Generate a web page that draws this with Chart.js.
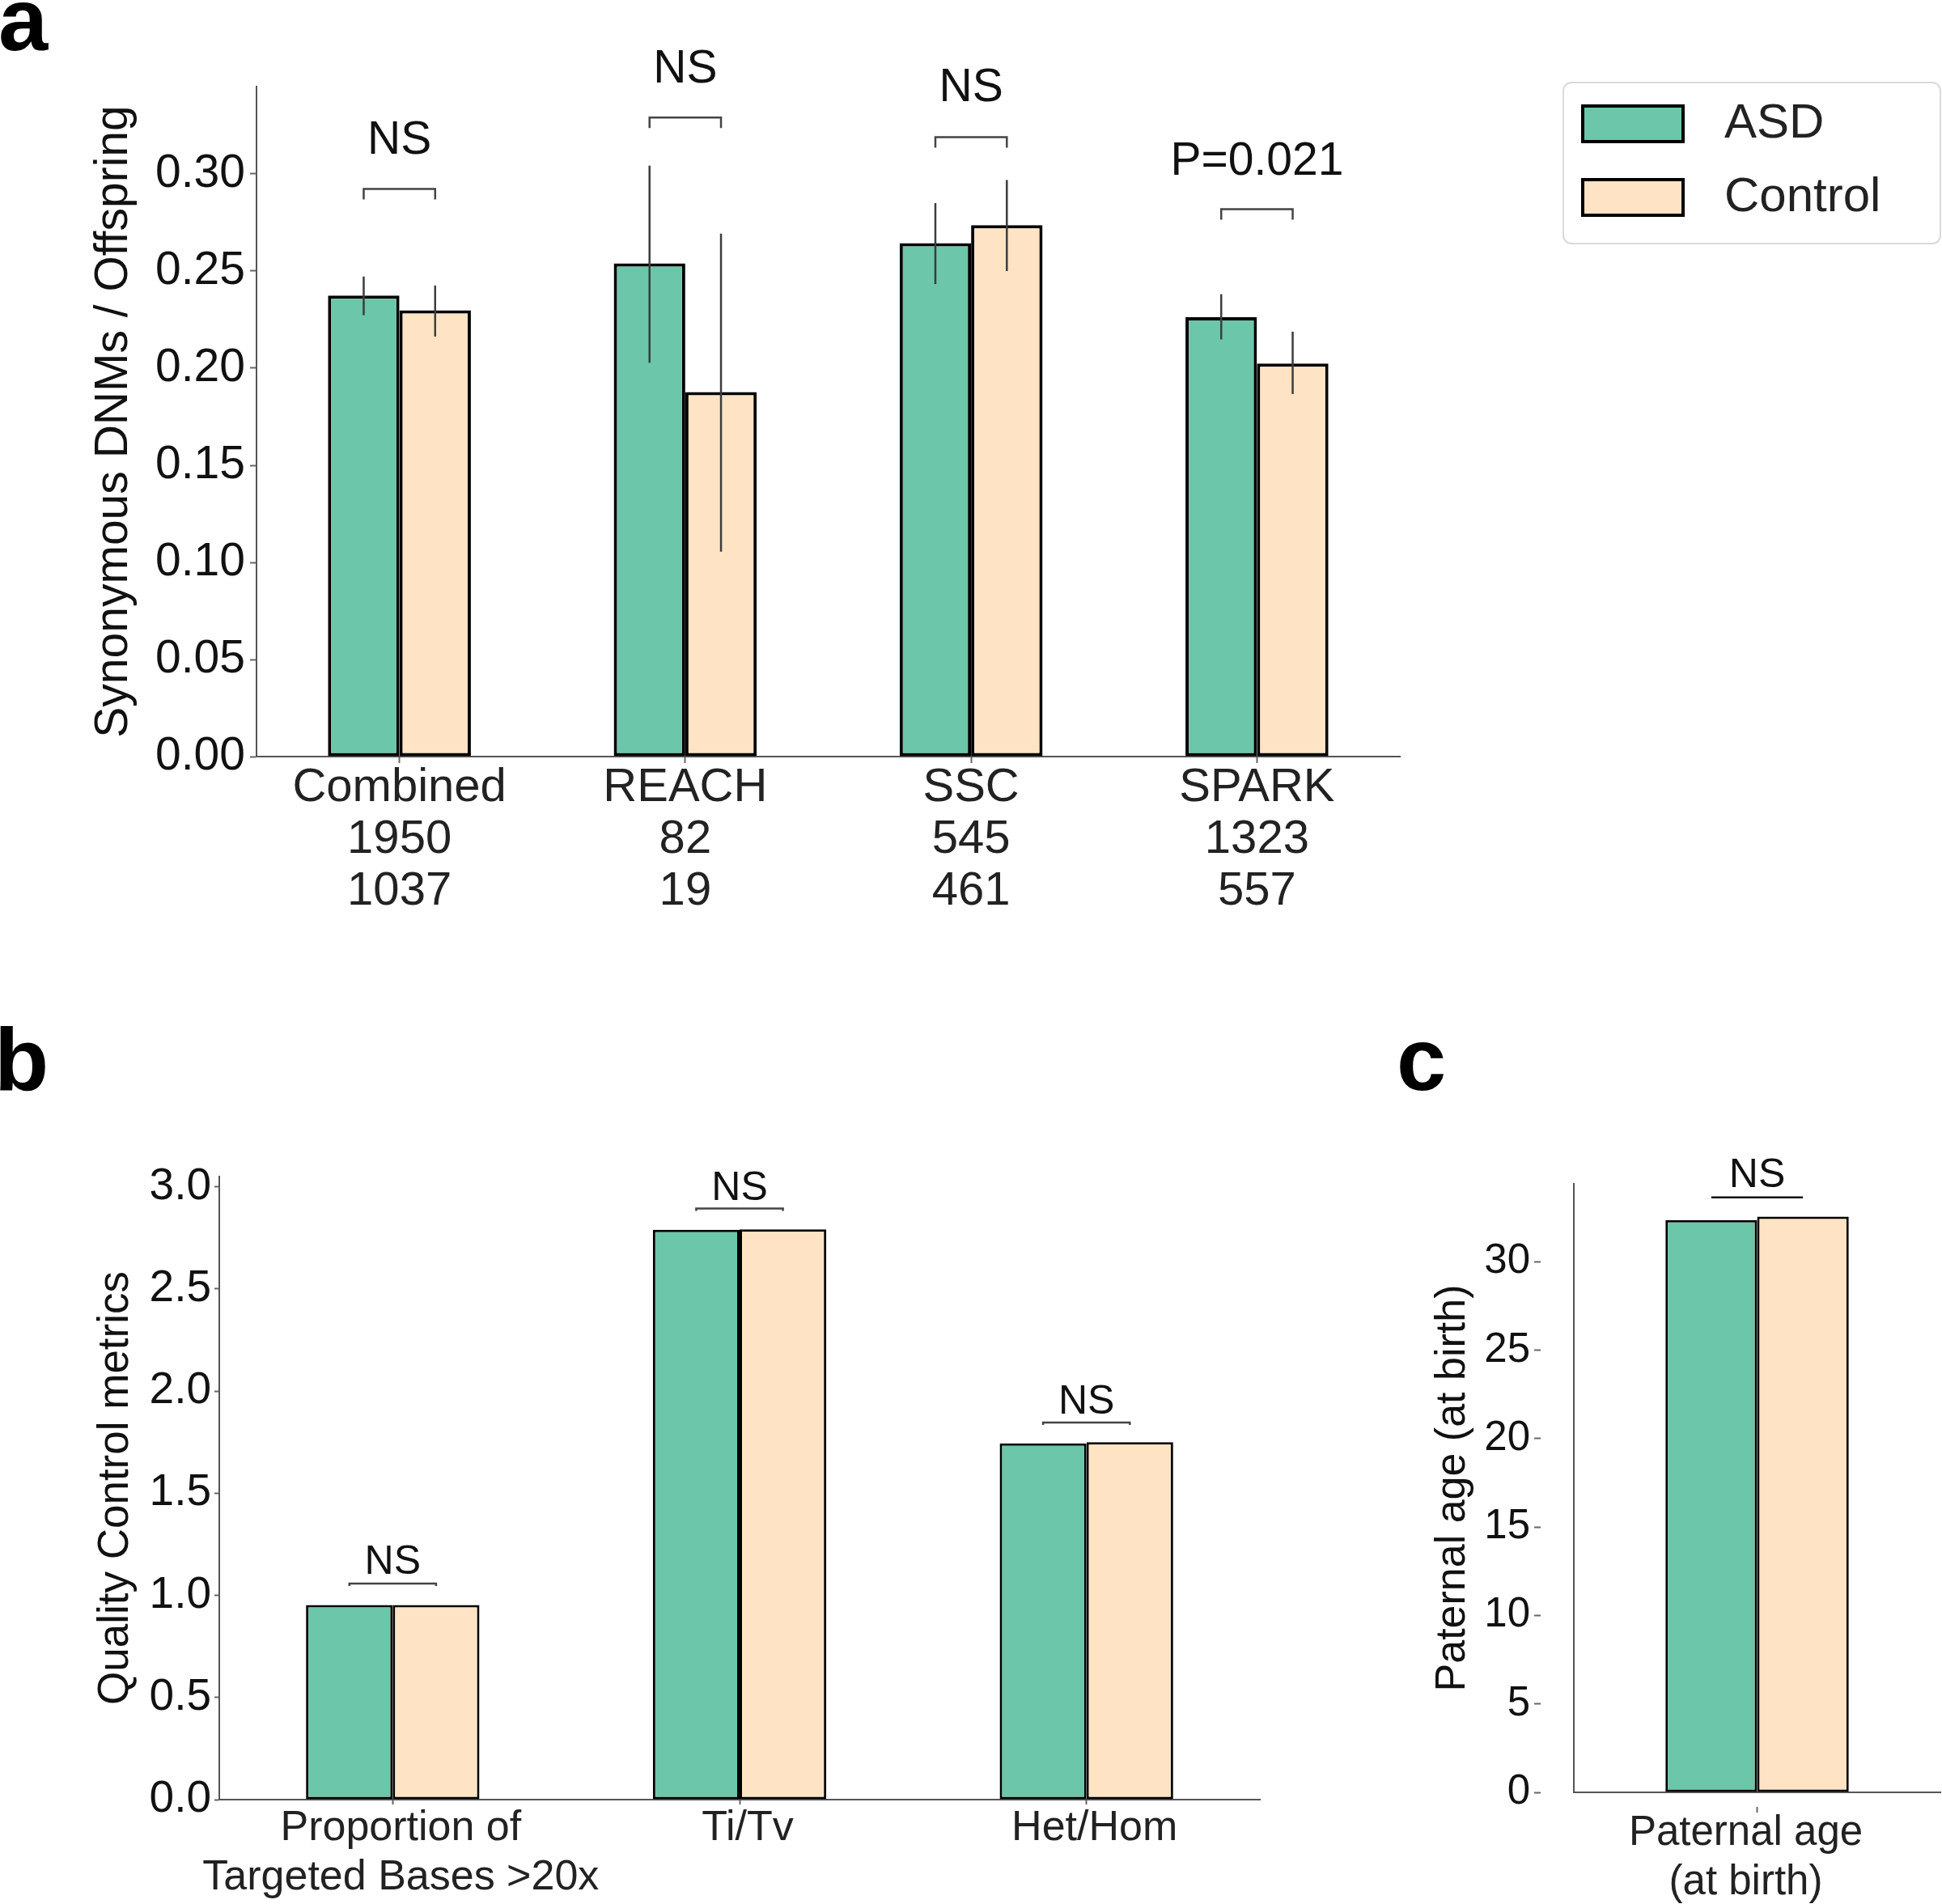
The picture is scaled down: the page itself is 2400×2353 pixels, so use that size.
<!DOCTYPE html>
<html>
<head>
<meta charset="utf-8">
<title>Synonymous DNMs, QC metrics and paternal age</title>
<script src="https://cdn.jsdelivr.net/npm/chart.js@4.4.1/dist/chart.umd.min.js"></script>
<style>
	html, body { margin: 0; padding: 0; background: #fff; }
	#page { position: relative; width: 2400px; height: 2353px; overflow: hidden; }
	#page canvas { position: absolute; }
	.tag { position: absolute; font-family: 'Liberation Sans', Arial, sans-serif; font-weight: bold; font-size: 110px; line-height: 110px; color: #000; }
</style>
</head>
<body>
<div id="page">
	<canvas id="chartA" width="2400" height="1150" style="left:0;top:0"></canvas>
	<canvas id="chartB" width="1700" height="1193" style="left:0;top:1160px"></canvas>
	<canvas id="chartC" width="700" height="1193" style="left:1700px;top:1160px"></canvas>
	<div class="tag" style="left:-2px;top:-31px">a</div>
	<div class="tag" style="left:-7px;top:1254px">b</div>
	<div class="tag" style="left:1726px;top:1254px">c</div>
</div>
<script>
// panel a - synonymous DNMs per offspring
var cohorts = ['Combined', 'REACH', 'SSC', 'SPARK'];
var asdCounts = [1950, 82, 545, 1323];
var controlCounts = [1037, 19, 461, 557];
var asdRate = [0.2374, 0.2540, 0.2644, 0.2262];
var asdRateLow = [0.2273, 0.2028, 0.2433, 0.2148];
var asdRateHigh = [0.2472, 0.3043, 0.2850, 0.2381];
var controlRate = [0.2298, 0.1877, 0.2736, 0.2024];
var controlRateLow = [0.2163, 0.1055, 0.2500, 0.1867];
var controlRateHigh = [0.2426, 0.2693, 0.2969, 0.2188];
var rateBracket = [0.2923, 0.3291, 0.3190, 0.2819];
var rateTextAt = [0.3170, 0.3538, 0.3440, 0.3063];
var rateSig = ['NS', 'NS', 'NS', 'P=0.021'];

// panel b - quality control metrics
var qcMetrics = [['Proportion of', 'Targeted Bases >20x'], 'Ti/Tv', 'Het/Hom'];
var qcAsd = [0.953, 2.790, 1.744];
var qcControl = [0.953, 2.792, 1.750];
var qcBracket = [1.058, 2.894, 1.846];
var qcTextAt = [1.161, 2.989, 1.944];
var qcSig = ['NS', 'NS', 'NS'];

// panel c - paternal age
var ageLabels = [['Paternal age', '(at birth)']];
var ageAsd = [32.35];
var ageControl = [32.55];
var ageBracket = [33.63];
var ageTextAt = [34.85];
var ageSig = ['NS'];

var groups = ['ASD', 'Control'];
var groupColors = ['#6cc6a9', '#fee4c4'];

var FONT = "'Liberation Sans', Arial, sans-serif";

var errorBars = {
	id: 'errorBars',
	afterDatasetsDraw: function(chart, args, opts) {
		var ctx = chart.ctx;
		var y = chart.scales.y;
		ctx.save();
		ctx.strokeStyle = opts.color;
		ctx.lineWidth = opts.width;
		chart.data.datasets.forEach(function(ds, i) {
			if (!ds.errLow) return;
			chart.getDatasetMeta(i).data.forEach(function(bar, j) {
				ctx.beginPath();
				ctx.moveTo(bar.x, y.getPixelForValue(ds.errLow[j]));
				ctx.lineTo(bar.x, y.getPixelForValue(ds.errHigh[j]));
				ctx.stroke();
			});
		});
		ctx.restore();
	}
};

var sigBrackets = {
	id: 'sigBrackets',
	afterDatasetsDraw: function(chart, args, opts) {
		var ctx = chart.ctx;
		var y = chart.scales.y;
		var m0 = chart.getDatasetMeta(0), m1 = chart.getDatasetMeta(1);
		ctx.save();
		ctx.strokeStyle = opts.color;
		ctx.lineWidth = opts.width;
		ctx.fillStyle = '#111';
		ctx.font = opts.size + 'px ' + FONT;
		ctx.textAlign = 'center';
		ctx.textBaseline = 'middle';
		for (var i = 0; i < opts.levels.length; i++) {
			var x1 = m0.data[i].x, x2 = m1.data[i].x;
			var yy = y.getPixelForValue(opts.levels[i]);
			ctx.beginPath();
			ctx.moveTo(x1, yy + opts.tick);
			ctx.lineTo(x1, yy);
			ctx.lineTo(x2, yy);
			ctx.lineTo(x2, yy + opts.tick);
			ctx.stroke();
			ctx.fillText(opts.text[i], (x1 + x2) / 2, y.getPixelForValue(opts.textAt[i]));
		}
		ctx.restore();
	}
};

var boxLegend = {
	id: 'boxLegend',
	afterDraw: function(chart, args, o) {
		var ctx = chart.ctx;
		ctx.save();
		ctx.strokeStyle = '#dadada';
		ctx.lineWidth = 2;
		ctx.beginPath();
		ctx.roundRect(o.x, o.y, o.w, o.h, 10);
		ctx.stroke();
		ctx.font = o.size + 'px ' + FONT;
		ctx.textBaseline = 'middle';
		chart.data.datasets.forEach(function(ds, i) {
			var cy = o.y + o.first + i * o.step;
			ctx.fillStyle = ds.backgroundColor;
			ctx.fillRect(o.x + 24, cy - 22, 124, 44);
			ctx.lineWidth = 4;
			ctx.strokeStyle = '#000';
			ctx.strokeRect(o.x + 24, cy - 22, 124, 44);
			ctx.fillStyle = '#222';
			ctx.fillText(ds.label, o.x + 199, cy);
		});
		ctx.restore();
	}
};

function stepTicks(step) {
	return function(scale) {
		scale.ticks = scale.ticks.filter(function(t) {
			var k = t.value / step;
			return Math.abs(k - Math.round(k)) < 1e-6;
		});
	};
}

function barChart(id, o) {
	var sets = [
		{data: o.asd, errLow: o.asdLow, errHigh: o.asdHigh},
		{data: o.control, errLow: o.controlLow, errHigh: o.controlHigh}
	];
	sets.forEach(function(s, i) {
		s.label = groups[i];
		s.backgroundColor = groupColors[i];
		s.borderColor = '#000';
		s.borderWidth = o.edge;
		s.borderSkipped = false;
		s.categoryPercentage = 0.5;
		s.barPercentage = 1;
	});
	return new Chart(document.getElementById(id), {
		type: 'bar',
		data: {labels: o.labels, datasets: sets},
		options: {
			responsive: false,
			animation: false,
			devicePixelRatio: 1,
			events: [],
			layout: {padding: o.pad},
			plugins: {
				legend: {display: false},
				tooltip: {enabled: false},
				errorBars: {color: '#3c3c3c', width: 2.5},
				sigBrackets: {levels: o.bracket, textAt: o.textAt, text: o.sig, tick: o.bracketTick, color: o.bracketColor, width: 2.5, size: o.sigSize},
				boxLegend: o.legend || {}
			},
			scales: {
				x: {
					grid: {display: true, offset: false, drawOnChartArea: false, drawTicks: true, tickLength: o.xTick.len, tickColor: '#666', tickWidth: 2, tickBorderDash: o.xTick.dash || []},
					border: {display: true, color: '#555', width: 2},
					ticks: {color: '#222', font: {family: FONT, size: o.xFont, lineHeight: o.xLine}, padding: o.xPad, labelOffset: o.xShift || 0, maxRotation: 0, autoSkip: false},
					afterFit: function(s) { s.height = o.xHeight; }
				},
				y: {
					min: 0,
					max: o.yMax,
					grid: {display: true, drawOnChartArea: false, drawTicks: true, tickLength: o.yTick.len, tickColor: '#666', tickWidth: 2, tickBorderDash: o.yTick.dash || []},
					border: {display: true, color: '#555', width: 2},
					ticks: {
						stepSize: o.step,
						includeBounds: false,
						color: '#111',
						padding: o.yPad,
						font: {family: FONT, size: o.yFont},
						callback: function(v) { return v.toFixed(o.dec); }
					},
					afterBuildTicks: stepTicks(o.step),
					title: {display: true, text: o.title, color: '#111', font: {family: FONT, size: o.titleSize, lineHeight: 1.2}, padding: {top: o.titlePad, bottom: 0}},
					afterFit: function(s) { s.width = o.yWidth; }
				}
			}
		},
		plugins: o.legend ? [errorBars, sigBrackets, boxLegend] : [errorBars, sigBrackets]
	});
}

barChart('chartA', {
	labels: cohorts.map(function(c, i) { return [c, String(asdCounts[i]), String(controlCounts[i])]; }),
	asd: asdRate, asdLow: asdRateLow, asdHigh: asdRateHigh,
	control: controlRate, controlLow: controlRateLow, controlHigh: controlRateHigh,
	bracket: rateBracket, textAt: rateTextAt, sig: rateSig, bracketTick: 13, bracketColor: '#444', sigSize: 57,
	edge: 4,
	pad: {left: 0, top: 107, right: 670, bottom: 0},
	xHeight: 215, xFont: 58, xLine: 1.1, xPad: -1, xTick: {len: 8},
	yWidth: 317, yMax: 0.345, step: 0.05, dec: 2, yFont: 57, yPad: 6, yTick: {len: 8},
	title: 'Synonymous DNMs / Offspring', titleSize: 57, titlePad: 107,
	legend: {x: 1932, y: 102, w: 466, h: 199, first: 51, step: 91, size: 60}
});

barChart('chartB', {
	labels: qcMetrics,
	asd: qcAsd, control: qcControl,
	bracket: qcBracket, textAt: qcTextAt, sig: qcSig, bracketTick: 3, bracketColor: '#444', sigSize: 50,
	edge: 3,
	pad: {left: 0, top: 294, right: 143, bottom: 0},
	xHeight: 129, xFont: 52, xLine: 1.17, xPad: -1, xShift: 10, xTick: {len: 6},
	yWidth: 271, yMax: 3.05, step: 0.5, dec: 1, yFont: 55, yPad: 4, yTick: {len: 6},
	title: 'Quality Control metrics', titleSize: 53, titlePad: 112
});

barChart('chartC', {
	labels: ageLabels,
	asd: ageAsd, control: ageControl,
	bracket: ageBracket, textAt: ageTextAt, sig: ageSig, bracketTick: 0, bracketColor: '#111', sigSize: 50,
	edge: 3,
	pad: {left: 0, top: 303, right: 2, bottom: 0},
	xHeight: 138, xFont: 51, xLine: 1.2, xPad: -5, xShift: -14, xTick: {len: 25, dash: [0, 17, 8, 100]},
	yWidth: 245, yMax: 34.4, step: 5, dec: 0, yFont: 51, yPad: 5, yTick: {len: 49, dash: [8, 100]},
	title: 'Paternal age (at birth)', titleSize: 52, titlePad: 64
});
</script>
</body>
</html>
